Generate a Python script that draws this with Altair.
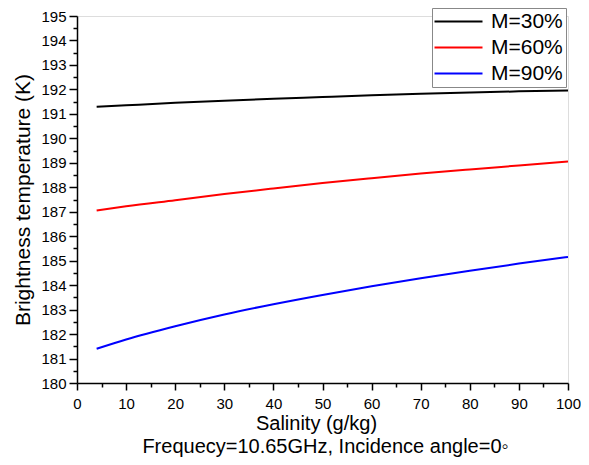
import altair as alt
import pandas as pd

salinity = [4, 10, 20, 30, 40, 50, 60, 70, 80, 90, 100]
m30 = [191.29, 191.35, 191.45, 191.54, 191.62, 191.69, 191.76, 191.82, 191.87, 191.92, 191.96]
m60 = [187.05, 187.22, 187.47, 187.72, 187.95, 188.17, 188.37, 188.56, 188.73, 188.89, 189.05]
m90 = [181.40, 181.78, 182.32, 182.80, 183.22, 183.60, 183.95, 184.28, 184.59, 184.88, 185.15]
series = ["M=30%", "M=60%", "M=90%"]
colors = ["#000000", "#ff0000", "#0000ff"]

x_major = list(range(0, 101, 10))
x_minor = list(range(5, 100, 10))
y_major = list(range(180, 196))
y_minor = [v + 0.5 for v in range(180, 195)]

rows = []
for name, vals in zip(series, [m30, m60, m90]):
    for s, v in zip(salinity, vals):
        rows.append({"Salinity": s, "Tb": v, "M": name})
df = pd.DataFrame(rows)

FONT = "Liberation Sans"

xscale = alt.Scale(domain=[0, 100], nice=False, zero=False)
yscale = alt.Scale(domain=[180, 195], nice=False, zero=False)

main = alt.Chart(df).mark_line(strokeWidth=2, interpolate="monotone", clip=True).encode(
    x=alt.X("Salinity:Q", scale=xscale, axis=alt.Axis(
        values=x_major, orient="bottom", grid=False, tickSize=7, tickWidth=1.5,
        tickColor="black", domainColor="black", domainWidth=1.5,
        labelFont=FONT, labelFontSize=15, labelColor="black", labelPadding=6,
        labelFlush=False, labelOverlap=False,
        title="Salinity (g/kg)", titleFont=FONT, titleFontSize=20,
        titleFontWeight="normal", titleColor="black",
        titleX=239, titleY=46.5, titleBaseline="alphabetic",
        titleAlign="center")),
    y=alt.Y("Tb:Q", scale=yscale, axis=alt.Axis(
        values=y_major, orient="left", grid=False, tickSize=8, tickWidth=1.5,
        tickColor="black", domainColor="black", domainWidth=1.5,
        labelFont=FONT, labelFontSize=15, labelColor="black", labelPadding=3,
        labelFlush=False, labelOverlap=False,
        title="Brightness temperature (K)", titleFont=FONT, titleFontSize=21,
        titleFontWeight="normal", titleColor="black",
        titleX=-47.5, titleY=183.5, titleBaseline="alphabetic", titleAngle=270,
        titleAlign="center")),
    color=alt.Color("M:N", scale=alt.Scale(domain=series, range=colors), legend=alt.Legend(
        orient="none", legendX=355, legendY=-8, title=None,
        symbolType="M-3,0L3,0", symbolSize=256, symbolStrokeWidth=2,
        labelFont=FONT, labelFontSize=21, labelColor="black",
        strokeColor="#888888", fillColor="white", padding=3, rowPadding=4,
        symbolOffset=13, labelOffset=22)),
)

minor = alt.Chart(df).mark_line(opacity=0).encode(
    x=alt.X("Salinity:Q", scale=xscale, axis=alt.Axis(
        values=x_minor, orient="bottom", grid=False, tickSize=4, tickWidth=1.5,
        tickColor="black", domain=False, labels=False,
        title="Frequecy=10.65GHz, Incidence angle=0◦", titleFont=FONT, titleFontSize=20,
        titleFontWeight="normal", titleColor="black",
        titleX=248, titleY=69.5, titleBaseline="alphabetic", titleAlign="center")),
    y=alt.Y("Tb:Q", scale=yscale, axis=alt.Axis(
        values=y_minor, orient="left", grid=False, tickSize=4, tickWidth=1.5,
        tickColor="black", domain=False, labels=False, title=None)),
    detail="M:N",
)

chart = alt.layer(minor, main).resolve_axis(x="independent", y="independent").properties(
    width=491, height=367,
    autosize=alt.AutoSizeParams(type="none"),
    padding={"left": 69, "top": 8, "right": 13, "bottom": 74},
).configure_view(stroke=None).configure(background="white")

chart.save("out.html", embed_options={"renderer": "svg", "actions": False})
